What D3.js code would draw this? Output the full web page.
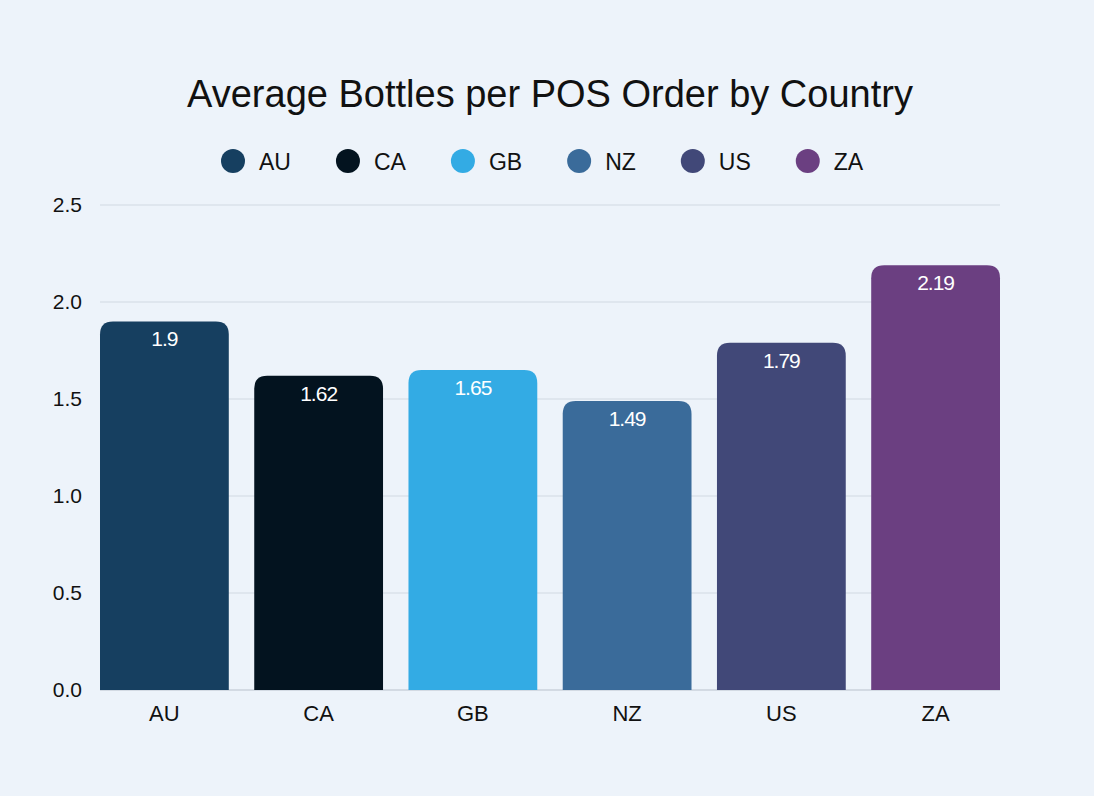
<!DOCTYPE html>
<html>
<head>
<meta charset="utf-8">
<script src="https://cdn.jsdelivr.net/npm/d3@7"></script>
<style>
  html, body { margin: 0; padding: 0; background: #edf3fa; }
  svg { display: block; font-family: "Liberation Sans", Arial, sans-serif; }
</style>
</head>
<body>
<div id="chart"></div>
<script>
var countries = ["AU", "CA", "GB", "NZ", "US", "ZA"];
var values = [1.9, 1.62, 1.65, 1.49, 1.79, 2.19];
var colors = ["#163f60", "#03131f", "#33abe4", "#3a6b9a", "#414878", "#6b3f81"];
var yTicks = [0, 0.5, 1.0, 1.5, 2.0, 2.5];

var width = 1094, height = 796;
var margin = {top: 205, right: 94, bottom: 106, left: 100};

var svg = d3.select("#chart").append("svg")
  .attr("width", width)
  .attr("height", height);

svg.append("rect")
  .attr("width", width)
  .attr("height", height)
  .attr("fill", "#edf3fa");

var x = d3.scaleBand()
  .domain(countries)
  .range([margin.left, width - margin.right])
  .paddingInner(0.165)
  .paddingOuter(0);

var y = d3.scaleLinear()
  .domain([0, 2.5])
  .range([height - margin.bottom, margin.top]);

var color = d3.scaleOrdinal().domain(countries).range(colors);

// title
svg.append("text")
  .attr("x", 550)
  .attr("y", 107)
  .attr("text-anchor", "middle")
  .attr("font-size", 38)
  .attr("fill", "#111")
  .text("Average Bottles per POS Order by Country");

// legend
var legend = svg.append("g");
var lx = 233;
countries.forEach(function(c){
  var g = legend.append("g").attr("transform", "translate(" + lx + ",161)");
  g.append("circle").attr("r", 12).attr("fill", color(c));
  var t = g.append("text")
    .attr("x", 26)
    .attr("y", 8.5)
    .attr("font-size", 23)
    .attr("fill", "#111")
    .text(c);
  lx += 26 + t.node().getComputedTextLength() + 57;
});

// grid
svg.append("g")
  .selectAll("line")
  .data(yTicks)
  .enter()
  .append("line")
  .attr("x1", margin.left)
  .attr("x2", width - margin.right)
  .attr("y1", function(d){ return y(d); })
  .attr("y2", function(d){ return y(d); })
  .attr("stroke", function(d){ return d === 0 ? "#b9c1cc" : "#d2d9e2"; })
  .attr("stroke-width", 1.2);

// y axis
var yAxis = svg.append("g")
  .attr("transform", "translate(" + (margin.left - 18) + ",0)")
  .call(d3.axisLeft(y).tickValues(yTicks).tickFormat(d3.format(".1f")).tickSize(0).tickPadding(0));
yAxis.select(".domain").remove();
yAxis.selectAll("text")
  .attr("font-size", 21)
  .attr("font-family", "Liberation Sans, Arial, sans-serif")
  .attr("fill", "#111");

// x axis
var xAxis = svg.append("g")
  .attr("transform", "translate(0," + (height - margin.bottom) + ")")
  .call(d3.axisBottom(x).tickSize(0).tickPadding(15));
xAxis.select(".domain").remove();
xAxis.selectAll("text")
  .attr("font-size", 22)
  .attr("font-family", "Liberation Sans, Arial, sans-serif")
  .attr("fill", "#111");

function topRounded(x0, y0, w, h, r){
  r = Math.min(r, h, w / 2);
  return "M" + x0 + "," + (y0 + h) +
    "V" + (y0 + r) +
    "Q" + x0 + "," + y0 + " " + (x0 + r) + "," + y0 +
    "H" + (x0 + w - r) +
    "Q" + (x0 + w) + "," + y0 + " " + (x0 + w) + "," + (y0 + r) +
    "V" + (y0 + h) + "Z";
}

var data = countries.map(function(c, i){ return {country: c, value: values[i]}; });

svg.append("g")
  .selectAll("path")
  .data(data)
  .enter()
  .append("path")
  .attr("d", function(d){
    return topRounded(x(d.country), y(d.value), x.bandwidth(), y(0) - y(d.value), 13);
  })
  .attr("fill", function(d){ return color(d.country); });

svg.append("g")
  .selectAll("text")
  .data(data)
  .enter()
  .append("text")
  .attr("x", function(d){ return x(d.country) + x.bandwidth() / 2; })
  .attr("y", function(d){ return y(d.value) + 25; })
  .attr("text-anchor", "middle")
  .attr("font-size", 21)
  .attr("fill", "#ffffff")
  .attr("letter-spacing", -1)
  .text(function(d){ return d.value; });
</script>
</body>
</html>
